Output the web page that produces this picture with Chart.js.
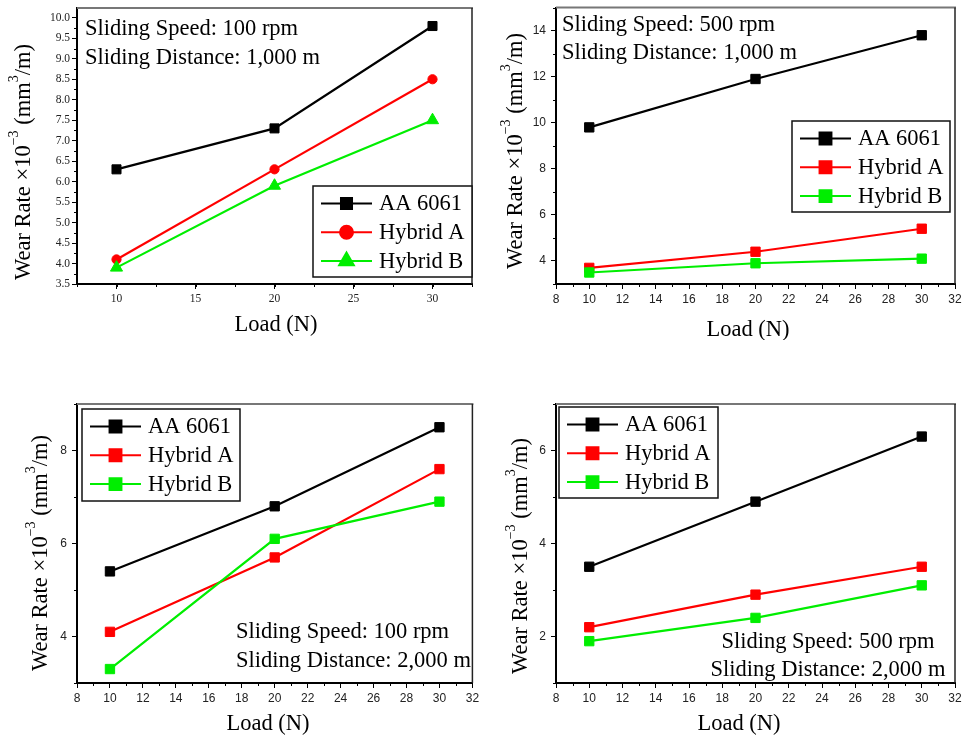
<!DOCTYPE html>
<html>
<head>
<meta charset="utf-8">
<script src="https://cdn.jsdelivr.net/npm/chart.js@4.4.1/dist/chart.umd.min.js"></script>
<style>
  body { margin: 0; background: #fff; }
  .panel { position: absolute; }
</style>
</head>
<body>
<div class="panel" style="left:0;top:0"><canvas id="c1" width="480" height="340"></canvas></div>
<div class="panel" style="left:480px;top:0"><canvas id="c2" width="483" height="340"></canvas></div>
<div class="panel" style="left:0;top:390px"><canvas id="c3" width="480" height="350"></canvas></div>
<div class="panel" style="left:480px;top:390px"><canvas id="c4" width="483" height="350"></canvas></div>
<script>
// loads on the x axis (N)
const loads = [10, 20, 30];
const names = ['AA 6061', 'Hybrid A', 'Hybrid B'];

// wear rate x10^-3 mm3/m
// 100 rpm, 1,000 m
const aa_100_1000 = [6.3, 7.3, 9.8];
const hA_100_1000 = [4.1, 6.3, 8.5];
const hB_100_1000 = [3.9, 5.9, 7.5];
// 500 rpm, 1,000 m
const aa_500_1000 = [9.8, 11.9, 13.8];
const hA_500_1000 = [3.7, 4.4, 5.4];
const hB_500_1000 = [3.5, 3.9, 4.1];
// 100 rpm, 2,000 m
const aa_100_2000 = [5.4, 6.8, 8.5];
const hA_100_2000 = [4.1, 5.7, 7.6];
const hB_100_2000 = [3.3, 6.1, 6.9];
// 500 rpm, 2,000 m
const aa_500_2000 = [3.5, 4.9, 6.3];
const hA_500_2000 = [2.2, 2.9, 3.5];
const hB_500_2000 = [1.9, 2.4, 3.1];

// tick labels
const xTicks1 = [10, 15, 20, 25, 30];
const xTicks2 = [8, 10, 12, 14, 16, 18, 20, 22, 24, 26, 28, 30, 32];
const yTicks1 = [3.5, 4.0, 4.5, 5.0, 5.5, 6.0, 6.5, 7.0, 7.5, 8.0, 8.5, 9.0, 9.5, 10.0];
const yTicks2 = [4, 6, 8, 10, 12, 14];
const yTicks3 = [4, 6, 8];
const yTicks4 = [2, 4, 6];

const serif = "'Liberation Serif', 'Times New Roman', serif";
const sans = "'Liberation Sans', Arial, sans-serif";
const colors = ['#000000', '#ff0000', '#00ee00'];
const big = '22.5px ';

function line(ctx, x1, y1, x2, y2) {
  ctx.beginPath(); ctx.moveTo(x1, y1); ctx.lineTo(x2, y2); ctx.stroke();
}

// frame, minor ticks, axis titles, notes and the boxed legend
const decor = {
  id: 'decor',
  afterDraw(chart, args, o) {
    const ctx = chart.ctx, a = chart.chartArea;
    const xs = chart.scales.x, ys = chart.scales.y;
    ctx.save();
    ctx.strokeStyle = '#777'; ctx.lineWidth = 2;
    line(ctx, a.left, a.top, a.right + 1, a.top);
    ctx.strokeStyle = '#222'; ctx.lineWidth = 1.5;
    line(ctx, a.right, a.top, a.right, a.bottom);

    ctx.strokeStyle = '#000'; ctx.lineWidth = 1;
    for (let v = o.minorX[0]; v <= xs.max + 1e-9; v += o.minorX[1]) {
      const px = Math.round(xs.getPixelForValue(v)) + 0.5;
      line(ctx, px, a.bottom, px, a.bottom + 3);
    }
    for (let v = o.minorY[0]; v <= ys.max + 1e-9; v += o.minorY[1]) {
      const py = Math.round(ys.getPixelForValue(v)) + 0.5;
      line(ctx, a.left - 3, py, a.left, py);
    }

    // axis titles
    ctx.fillStyle = '#000';
    ctx.textBaseline = 'middle';
    ctx.textAlign = 'center';
    ctx.font = big + serif;
    ctx.fillText('Load (N)', o.xTitle[0], o.xTitle[1]);

    ctx.save();
    ctx.translate(o.yTitle[0], o.yTitle[1]);
    ctx.rotate(-Math.PI / 2);
    ctx.textAlign = 'left';
    const parts = [['Wear Rate \u00d710', 0], ['\u22123', 1], [' (mm', 0], ['3', 1], ['/m)', 0]];
    let total = 0;
    parts.forEach(p => { ctx.font = (p[1] ? '14px ' : big) + serif; total += ctx.measureText(p[0]).width; });
    let tx = -total / 2;
    parts.forEach(p => {
      ctx.font = (p[1] ? '14px ' : big) + serif;
      ctx.fillText(p[0], tx, p[1] ? -10 : 0);
      tx += ctx.measureText(p[0]).width;
    });
    ctx.restore();

    // condition notes
    ctx.font = big + serif;
    ctx.textBaseline = 'alphabetic';
    o.notes.forEach(n => {
      ctx.textAlign = n[3] || 'left';
      ctx.fillText(n[0], n[1], n[2]);
    });

    // legend
    const L = o.legend;
    ctx.fillStyle = '#fff';
    ctx.fillRect(L.x, L.y, L.w, L.h);
    ctx.strokeStyle = '#111'; ctx.lineWidth = 1.5;
    ctx.strokeRect(L.x, L.y, L.w, L.h);
    chart.data.datasets.forEach((d, i) => {
      const ry = L.y + 17.5 + i * 28.8;
      ctx.strokeStyle = d.borderColor; ctx.lineWidth = 2;
      line(ctx, L.x + 8, ry, L.x + 59, ry);
      ctx.fillStyle = d.borderColor;
      Chart.helpers.drawPoint(ctx, { pointStyle: d.pointStyle, rotation: 0, radius: L.r[i], borderWidth: 1 }, L.x + 33.5, ry);
      ctx.fillStyle = '#000';
      ctx.font = big + serif;
      ctx.textAlign = 'left';
      ctx.textBaseline = 'middle';
      ctx.fillText(d.label, L.x + 66, ry + 1);
    });
    ctx.restore();
  }
};

function series(vals, i, style, r) {
  return {
    label: names[i],
    data: loads.map((x, k) => ({ x: x, y: vals[k] })),
    borderColor: colors[i],
    backgroundColor: colors[i],
    pointBackgroundColor: colors[i],
    pointBorderColor: colors[i],
    pointStyle: style,
    pointRadius: r,
    pointBorderWidth: 1,
    borderWidth: 2.2,
    tension: 0,
    order: 2 - i
  };
}

function makeChart(id, datasets, c) {
  const tickFont = c.serifTicks ? { family: serif, size: 11.5 } : { family: sans, size: 12 };
  const axis = (min, max, ticks, horiz) => ({
    type: 'linear',
    min: min,
    max: max,
    afterBuildTicks: s => { s.ticks = ticks.map(v => ({ value: v })); },
    afterFit: s => {
      if (horiz) s.height = c.xh; else s.width = c.yw;
      s.paddingLeft = 0; s.paddingRight = 0; s.paddingTop = 0; s.paddingBottom = 0;
    },
    ticks: {
      autoSkip: false, maxRotation: 0, color: '#222', font: tickFont,
      padding: horiz ? 3 : (c.serifTicks ? 2 : 5),
      callback: v => (!horiz && c.dec) ? Number(v).toFixed(c.dec) : String(v)
    },
    grid: { drawOnChartArea: false, drawTicks: true, tickLength: 5, color: '#000', tickColor: '#000', lineWidth: 1 },
    border: { display: true, color: '#000', width: 2 }
  });
  return new Chart(document.getElementById(id), {
    type: 'line',
    data: { datasets: datasets },
    options: {
      responsive: false,
      animation: false,
      devicePixelRatio: 1,
      events: [],
      layout: { padding: c.pad },
      plugins: { legend: { display: false }, tooltip: { enabled: false }, decor: c.decor },
      scales: {
        x: axis(c.x[0], c.x[1], c.xTicks, true),
        y: axis(c.y[0], c.y[1], c.yTicks, false)
      }
    },
    plugins: [decor]
  });
}

makeChart('c1', [
  series(aa_100_1000, 0, 'rect', 6.4),
  series(hA_100_1000, 1, 'circle', 4.6),
  series(hB_100_1000, 2, 'triangle', 7)
], {
  pad: { left: 0, right: 4, top: 5, bottom: 0 }, yw: 77, xh: 56,
  x: [7.5, 32.5], y: [3.5, 10.24], xTicks: xTicks1, yTicks: yTicks1, dec: 1, serifTicks: true,
  decor: {
    minorX: [7.5, 2.5], minorY: [3.75, 0.5],
    xTitle: [276, 325], yTitle: [24, 162],
    notes: [['Sliding Speed: 100 rpm', 85, 35], ['Sliding Distance: 1,000 m', 85, 64]],
    legend: { x: 313, y: 186, w: 159, h: 91, r: [7.8, 6.5, 8.5] }
  }
});

makeChart('c2', [
  series(aa_500_1000, 0, 'rect', 6.6),
  series(hA_500_1000, 1, 'rect', 6.6),
  series(hB_500_1000, 2, 'rect', 6.6)
], {
  pad: { left: 0, right: 8, top: 5, bottom: 0 }, yw: 76, xh: 56,
  x: [8, 32], y: [3, 15], xTicks: xTicks2, yTicks: yTicks2,
  decor: {
    minorX: [9, 2], minorY: [3, 2],
    xTitle: [268, 330], yTitle: [36, 151],
    notes: [['Sliding Speed: 500 rpm', 82, 31], ['Sliding Distance: 1,000 m', 82, 59]],
    legend: { x: 312, y: 121, w: 158, h: 91, r: [8.4, 8.4, 8.4] }
  }
});

makeChart('c3', [
  series(aa_100_2000, 0, 'rect', 6.6),
  series(hA_100_2000, 1, 'rect', 6.6),
  series(hB_100_2000, 2, 'rect', 6.6)
], {
  pad: { left: 0, right: 4, top: 14, bottom: 0 }, yw: 77, xh: 57,
  x: [8, 32], y: [3, 9], xTicks: xTicks2, yTicks: yTicks3,
  decor: {
    minorX: [9, 2], minorY: [3, 2],
    xTitle: [268, 334], yTitle: [41, 163],
    notes: [['Sliding Speed: 100 rpm', 236, 248], ['Sliding Distance: 2,000 m', 236, 277]],
    legend: { x: 82, y: 19, w: 158, h: 92, r: [8.4, 8.4, 8.4] }
  }
});

makeChart('c4', [
  series(aa_500_2000, 0, 'rect', 6.6),
  series(hA_500_2000, 1, 'rect', 6.6),
  series(hB_500_2000, 2, 'rect', 6.6)
], {
  pad: { left: 0, right: 8, top: 14, bottom: 0 }, yw: 76, xh: 57,
  x: [8, 32], y: [1, 7], xTicks: xTicks2, yTicks: yTicks4,
  decor: {
    minorX: [9, 2], minorY: [1, 2],
    xTitle: [259, 334], yTitle: [41, 166],
    notes: [['Sliding Speed: 500 rpm', 348, 258, 'center'], ['Sliding Distance: 2,000 m', 348, 286, 'center']],
    legend: { x: 79, y: 17, w: 159, h: 91, r: [8.4, 8.4, 8.4] }
  }
});
</script>
</body>
</html>
